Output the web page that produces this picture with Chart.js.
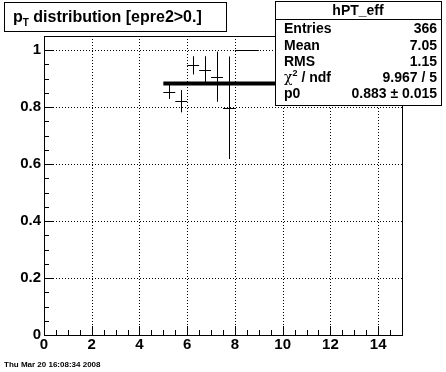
<!DOCTYPE html>
<html>
<head>
<meta charset="utf-8">
<script src="https://cdn.jsdelivr.net/npm/chart.js@4/dist/chart.umd.min.js"></script>
<style>
  html, body { margin: 0; padding: 0; background: #fff; }
  #wrap { width: 446px; height: 372px; }
</style>
</head>
<body>
<div id="wrap"><canvas id="c" width="446" height="372"></canvas></div>
<script>
// efficiency histogram hPT_eff, bins
const binCenters   = [5.25, 5.75, 6.25, 6.75, 7.25, 7.75, 8.5];
const binHalfWidth = [0.25, 0.25, 0.25, 0.25, 0.25, 0.25, 0.5];
const effValues    = [0.855, 0.821, 0.947, 0.932, 0.907, 0.798, 1.0];
const effErrors    = [0.026, 0.039, 0.032, 0.047, 0.088, 0.180, 0.0];

// pol0 fit
const fitRange = [5, 15];
const fitValue = 0.883;

const xTicks = [0, 2, 4, 6, 8, 10, 12, 14];
const yTicks = [0, 0.2, 0.4, 0.6, 0.8, 1];
const xMinorStep = 0.5;
const yMinorStep = 0.05;

const statsTitle  = 'hPT_eff';
const statsLabels = ['Entries', 'Mean', 'RMS', 'chi2', 'p0'];
const statsValues = ['366', '7.05', '1.15', '9.967 / 5', '0.883 \u00b1 0.015'];
const dateText = 'Thu Mar 20 16:08:34 2008';

const FONT = '"Liberation Sans", Arial, Helvetica, sans-serif';

// grid, frame and tick marks in ROOT style
const frame = {
  id: 'frame',
  beforeDatasetsDraw(chart) {
    const { ctx, chartArea: a, scales: { x, y } } = chart;
    ctx.save();
    ctx.strokeStyle = '#000';
    ctx.lineWidth = 1;
    ctx.setLineDash([1, 2]);
    ctx.beginPath();
    xTicks.forEach(v => {
      if (v === 0) return;
      const px = Math.round(x.getPixelForValue(v)) + 0.5;
      ctx.moveTo(px, a.top); ctx.lineTo(px, a.bottom);
    });
    yTicks.forEach(v => {
      if (v === 0) return;
      const py = Math.round(y.getPixelForValue(v)) + 0.5;
      ctx.moveTo(a.left, py); ctx.lineTo(a.right, py);
    });
    ctx.stroke();
    ctx.setLineDash([]);

    ctx.beginPath();
    for (let v = 0; v <= x.max + 1e-9; v += xMinorStep) {
      const px = Math.round(x.getPixelForValue(v)) + 0.5;
      const major = Math.abs(v / 2 - Math.round(v / 2)) < 1e-6;
      ctx.moveTo(px, a.bottom); ctx.lineTo(px, a.bottom - (major ? 9 : 5));
    }
    for (let v = 0; v <= y.max + 1e-9; v += yMinorStep) {
      const py = Math.round(y.getPixelForValue(v)) + 0.5;
      const major = Math.abs(v / 0.2 - Math.round(v / 0.2)) < 1e-6;
      ctx.moveTo(a.left, py); ctx.lineTo(a.left + (major ? 9 : 5), py);
    }
    ctx.stroke();

    ctx.strokeRect(Math.round(a.left) + 0.5, Math.round(a.top) + 0.5,
      Math.round(a.right - a.left), Math.round(a.bottom - a.top));
    ctx.restore();
  }
};

// crosses: x bin width and y error
const errorBars = {
  id: 'errorBars',
  afterDatasetsDraw(chart) {
    const { ctx, chartArea: a, scales: { x, y } } = chart;
    ctx.save();
    ctx.beginPath();
    ctx.rect(a.left, a.top, a.right - a.left, a.bottom - a.top);
    ctx.clip();
    ctx.strokeStyle = '#000';
    ctx.lineWidth = 1;
    ctx.beginPath();
    binCenters.forEach((c, i) => {
      const py = Math.round(y.getPixelForValue(effValues[i])) + 0.5;
      const px = Math.round(x.getPixelForValue(c)) + 0.5;
      ctx.moveTo(x.getPixelForValue(c - binHalfWidth[i]), py);
      ctx.lineTo(x.getPixelForValue(c + binHalfWidth[i]), py);
      if (effErrors[i] > 0) {
        ctx.moveTo(px, y.getPixelForValue(effValues[i] + effErrors[i]));
        ctx.lineTo(px, y.getPixelForValue(effValues[i] - effErrors[i]));
      }
    });
    ctx.stroke();
    ctx.restore();
  }
};

// title box, stats box and date
const labels = {
  id: 'labels',
  afterDraw(chart) {
    const ctx = chart.ctx;
    ctx.save();
    ctx.fillStyle = '#000';
    ctx.strokeStyle = '#000';
    ctx.lineWidth = 1;

    // title
    ctx.fillStyle = '#fff';
    ctx.fillRect(4, 2, 222, 29);
    ctx.strokeRect(4.5, 2.5, 222, 29);
    ctx.fillStyle = '#000';
    ctx.font = 'bold 16px ' + FONT;
    ctx.textBaseline = 'alphabetic';
    ctx.textAlign = 'left';
    let tx = 13;
    ctx.fillText('p', tx, 22);
    tx += ctx.measureText('p').width;
    ctx.font = 'bold 10px ' + FONT;
    ctx.fillText('T', tx, 26);
    tx += ctx.measureText('T').width;
    ctx.font = 'bold 16px ' + FONT;
    ctx.fillText(' distribution [epre2>0.]', tx, 22);

    // stats
    const bx = 275, by = 1, bw = 166, bh = 104;
    ctx.fillStyle = '#fff';
    ctx.fillRect(bx, by, bw, bh);
    ctx.strokeRect(bx + 0.5, by + 0.5, bw, bh);
    ctx.beginPath();
    ctx.moveTo(bx, 19.5); ctx.lineTo(bx + bw, 19.5);
    ctx.stroke();
    ctx.fillStyle = '#000';
    ctx.font = 'bold 14px ' + FONT;
    ctx.textAlign = 'center';
    ctx.fillText(statsTitle, bx + bw / 2, 15);
    const rowY = [33, 49.5, 66, 82, 98];
    statsLabels.forEach((lab, i) => {
      ctx.textAlign = 'left';
      if (lab === 'chi2') {
        ctx.font = '14px "DejaVu Serif", serif';
        ctx.fillText('\u03c7', 284, rowY[i]);
        let w = ctx.measureText('\u03c7').width;
        ctx.font = 'bold 9px ' + FONT;
        ctx.fillText('2', 284 + w, rowY[i] - 6);
        w += ctx.measureText('2').width;
        ctx.font = 'bold 14px ' + FONT;
        ctx.fillText(' / ndf', 284 + w, rowY[i]);
      } else {
        ctx.font = 'bold 14px ' + FONT;
        ctx.fillText(lab, 284, rowY[i]);
      }
      ctx.textAlign = 'right';
      ctx.font = 'bold 14px ' + FONT;
      ctx.fillText(statsValues[i], 437, rowY[i]);
    });

    // date
    ctx.textAlign = 'left';
    ctx.font = 'bold 8px ' + FONT;
    ctx.fillText(dateText, 4, 367);
    ctx.restore();
  }
};

new Chart(document.getElementById('c'), {
  type: 'scatter',
  data: {
    datasets: [{
      label: 'fit',
      type: 'line',
      data: fitRange.map(v => ({ x: v, y: fitValue })),
      borderColor: '#000',
      borderWidth: 4,
      pointRadius: 0,
      fill: false
    }, {
      label: 'hPT_eff',
      data: binCenters.map((c, i) => ({ x: c, y: effValues[i] })),
      pointRadius: 0,
      showLine: false
    }]
  },
  options: {
    responsive: false,
    animation: false,
    events: [],
    layout: { padding: { left: 0, top: 36, right: 44, bottom: 0 } },
    plugins: { legend: { display: false }, tooltip: { enabled: false }, title: { display: false } },
    scales: {
      x: {
        type: 'linear', min: 0, max: 15,
        grid: { display: false, drawTicks: false, tickLength: 0 }, border: { display: false },
        afterBuildTicks: s => { s.ticks = xTicks.map(v => ({ value: v })); },
        afterFit: s => { s.height = 37; },
        ticks: { color: '#000', padding: 1, maxRotation: 0, autoSkip: false,
          font: { family: FONT, size: 15, weight: 'bold' },
          callback: v => String(v) }
      },
      y: {
        type: 'linear', min: 0, max: 1.05,
        grid: { display: false, drawTicks: false, tickLength: 0 }, border: { display: false },
        afterBuildTicks: s => { s.ticks = yTicks.map(v => ({ value: v })); },
        afterFit: s => { s.width = 44; },
        ticks: { color: '#000', padding: 3, autoSkip: false,
          font: { family: FONT, size: 15, weight: 'bold' },
          callback: v => String(v) }
      }
    }
  },
  plugins: [frame, errorBars, labels]
});
</script>
</body>
</html>
